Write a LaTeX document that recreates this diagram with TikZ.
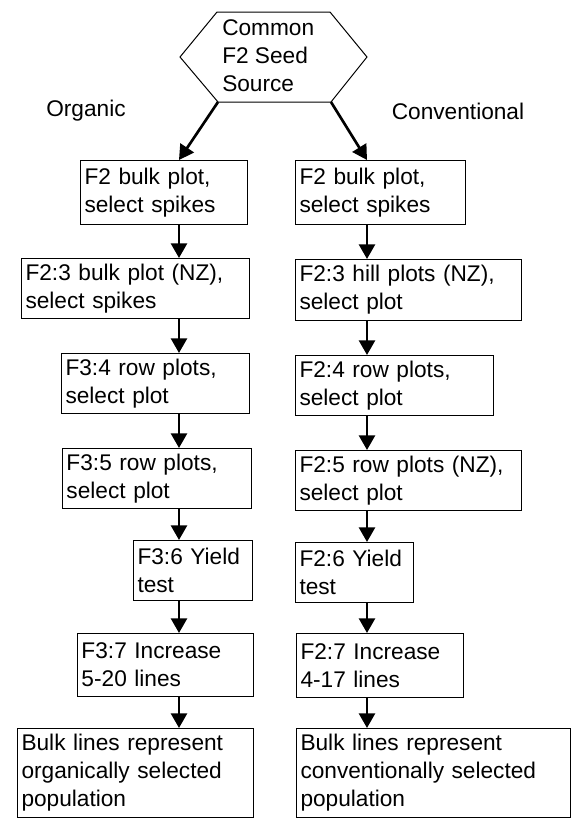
\documentclass[tikz,border=0pt]{standalone}
\usepackage{fontspec}
\setmainfont{Liberation Sans}
\usepackage{tikz}
\usetikzlibrary{arrows.meta}

\begin{document}
\begin{tikzpicture}[x=0.75pt,y=-0.75pt,font=\fontsize{17}{21}\selectfont,
    flowbox/.style={draw,line width=0.75pt,align=left,anchor=north west,inner xsep=3pt,inner ysep=0pt},
    flowarrow/.style={line width=2pt,-{Triangle[length=11pt,width=12pt]}}]
    \useasboundingbox (0,0) rectangle (572,819);
    \coordinate (hexL) at (180,57);  %Sechseck
    \coordinate (hexTL) at (217,12);
    \coordinate (hexTR) at (330,12);
    \coordinate (hexR) at (367,57);
    \coordinate (hexBR) at (331,102);
    \coordinate (hexBL) at (218,102);
    \draw[line width=0.75pt] (hexL) -- (hexTL) -- (hexTR) -- (hexR) -- (hexBR) -- (hexBL) -- cycle;
    \node[align=left,anchor=west,inner sep=0pt] (src) at (222,56) {Common\\F2 Seed\\Source};
    \node (org) at (86,111) {Organic};
    \node (conv) at (458,111) {Conventional};
    \coordinate (colL) at (179,0);  %Pfeilspalten
    \coordinate (colR) at (367,0);
    \foreach \name/\xa/\ya/\xb/\yb/\txt in
    {
      o1/80/160/247/224/{F2 bulk plot,\\select spikes},
      o2/21/258/249/318/{F2:3 bulk plot (NZ),\\select spikes},
      o3/61/353/249/413/{F3:4 row plots,\\select plot},
      o4/62/448/251/508/{F3:5 row plots,\\select plot},
      o5/133/540/252/600/{F3:6 Yield\\test},
      o6/77/633/253/696/{F3:7 Increase\\5-20 lines},
      o7/17/728/253/817/{Bulk lines represent\\organically selected\\population},
      c1/295/160/465/224/{F2 bulk plot,\\select spikes},
      c2/295/259/521/320/{F2:3 hill plots (NZ),\\select plot},
      c3/295/355/493/415/{F2:4 row plots,\\select plot},
      c4/295/450/521/510/{F2:5 row plots (NZ),\\select plot},
      c5/295/542/413/602/{F2:6 Yield\\test},
      c6/296/633/463/697/{F2:7 Increase\\4-17 lines},
      c7/296/728/570/817/{Bulk lines represent\\conventionally selected\\population}
    }
    {
      \pgfmathsetmacro\boxw{(\xb-\xa)*0.75-6}
      \pgfmathsetmacro\boxh{(\yb-\ya)*0.75}
      \node[flowbox,text width=\boxw pt,minimum height=\boxh pt] (\name) at (\xa,\ya) {\txt};
    };
    \draw[flowarrow] (hexBL) -- (o1.north -| colL);
    \draw[flowarrow] (hexBR) -- (c1.north -| colR);
    \foreach \ta/\tb in {o1/o2,o2/o3,o3/o4,o4/o5,o5/o6,o6/o7}
      \draw[flowarrow] (\ta.south -| colL) -- (\tb.north -| colL);
    \foreach \ta/\tb in {c1/c2,c2/c3,c3/c4,c4/c5,c5/c6,c6/c7}
      \draw[flowarrow] (\ta.south -| colR) -- (\tb.north -| colR);
  \end{tikzpicture}
\end{document}
